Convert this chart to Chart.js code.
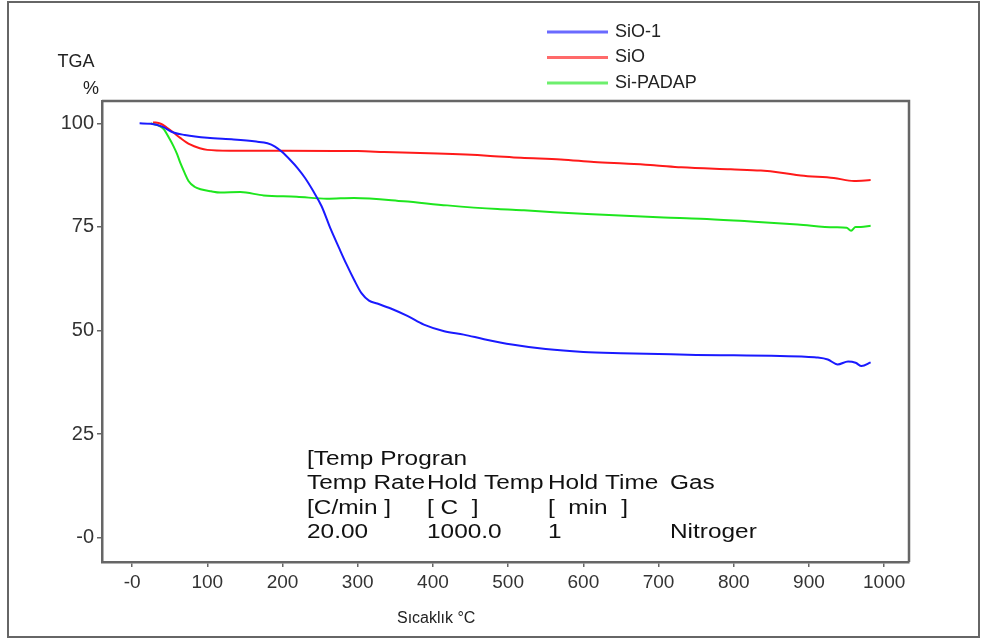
<!DOCTYPE html>
<html>
<head>
<meta charset="utf-8">
<title>TGA</title>
<script src="https://cdn.jsdelivr.net/npm/chart.js@4.4.1/dist/chart.umd.min.js"></script>
<style>
  html, body { margin: 0; padding: 0; background: #fff; }
  canvas { display: block; }
</style>
</head>
<body>
<canvas id="tgaChart" width="987" height="643"></canvas>
<script>
// TGA curves: temperature (°C) and remaining mass (%)
const sio1Temp = [10, 25, 40, 55, 70, 100, 135, 165, 180, 190, 200, 210, 220, 230, 241, 252, 264, 275, 285, 295, 305, 315, 326, 344, 366, 388, 415, 441, 468, 505, 550, 600, 650, 700, 750, 800, 850, 890, 910, 925, 938, 952, 962, 970, 982];
const sio1Mass = [100, 99.9, 99.2, 97.8, 97.2, 96.5, 96.1, 95.6, 95.2, 94.4, 93.0, 91.2, 89.2, 86.8, 83.6, 80.0, 74.5, 70.0, 66.0, 62.3, 59.0, 57.2, 56.5, 55.3, 53.5, 51.4, 49.8, 49.0, 47.9, 46.6, 45.5, 44.8, 44.5, 44.3, 44.1, 44.0, 43.9, 43.7, 43.5, 43.0, 41.8, 42.5, 42.2, 41.4, 42.3];

const sioTemp = [28, 38, 46, 55, 64, 77, 90, 100, 130, 200, 300, 335, 406, 472, 517, 570, 614, 654, 694, 730, 796, 836, 863, 889, 933, 960, 982];
const sioMass = [100.3, 99.9, 99.0, 97.8, 96.5, 94.9, 94.0, 93.6, 93.4, 93.4, 93.3, 93.1, 92.7, 92.2, 91.7, 91.3, 90.7, 90.3, 89.9, 89.4, 88.9, 88.6, 88.1, 87.4, 86.8, 86.1, 86.3];

const padapTemp = [25, 35, 42, 50, 55, 60, 64, 70, 75, 83, 91, 105, 117, 144, 175, 219, 259, 295, 361, 419, 486, 521, 605, 707, 756, 814, 885, 934, 950, 956, 962, 969, 982];
const padapMass = [100, 99.5, 98.6, 96.2, 94.5, 92.5, 90.5, 88.0, 86.1, 84.7, 84.1, 83.6, 83.3, 83.4, 82.6, 82.3, 81.8, 82.0, 81.2, 80.2, 79.3, 79.0, 78.1, 77.3, 77.0, 76.4, 75.6, 74.9, 74.8, 74.1, 75.0, 75.0, 75.3];

const seriesNames = ['SiO-1', 'SiO', 'Si-PADAP'];

const xTicks = [0, 100, 200, 300, 400, 500, 600, 700, 800, 900, 1000];
const xTickLabels = ['-0', '100', '200', '300', '400', '500', '600', '700', '800', '900', '1000'];
const yTicks = [0, 25, 50, 75, 100];
const yTickLabels = ['-0', '25', '50', '75', '100'];

// instrument program printed inside the plot
const programRows = [
  ['[Temp Progran'],
  ['Temp Rate', 'Hold Temp', 'Hold Time', 'Gas'],
  ['[C/min ]', '[ C  ]', '[  min  ]', ''],
  ['20.00', '1000.0', '1', 'Nitroger']
];

const FONT = '"Liberation Sans", Arial, sans-serif';

function toPoints(xs, ys) {
  return xs.map((x, i) => ({ x: x, y: ys[i] }));
}

const decorations = {
  id: 'decorations',
  beforeDraw(chart) {
    const ctx = chart.ctx;
    ctx.save();
    ctx.fillStyle = '#fff';
    ctx.fillRect(0, 0, chart.width, chart.height);
    ctx.restore();
  },
  afterDraw(chart) {
    const ctx = chart.ctx;
    const area = chart.chartArea;
    ctx.save();

    // outer frame
    ctx.strokeStyle = '#666';
    ctx.lineWidth = 2;
    ctx.strokeRect(8, 2, 971, 635);

    // top and right sides of the plot box
    ctx.strokeStyle = '#666';
    ctx.lineWidth = 2.5;
    ctx.beginPath();
    ctx.moveTo(area.left, area.top);
    ctx.lineTo(area.right, area.top);
    ctx.lineTo(area.right, area.bottom);
    ctx.stroke();

    // axis titles
    ctx.fillStyle = '#222';
    ctx.textBaseline = 'middle';
    ctx.textAlign = 'center';
    ctx.font = '18px ' + FONT;
    ctx.fillText('TGA', 76, 62);
    ctx.fillText('%', 91, 89);
    ctx.textAlign = 'left';
    ctx.font = '16px ' + FONT;
    ctx.fillText('Sıcaklık °C', 397, 619);

    // legend
    ctx.font = '18px ' + FONT;
    chart.data.datasets.forEach((ds, i) => {
      const y = 32 + i * 25.5;
      ctx.strokeStyle = ds.borderColor;
      ctx.globalAlpha = 0.65;
      ctx.lineWidth = 3;
      ctx.beginPath();
      ctx.moveTo(547, y);
      ctx.lineTo(608, y);
      ctx.stroke();
      ctx.globalAlpha = 1;
      ctx.fillStyle = '#222';
      ctx.fillText(ds.label, 615, y);
    });

    // temperature program block
    const cols = [307, 427, 548, 670];
    ctx.font = '20px ' + FONT;
    ctx.fillStyle = '#111';
    programRows.forEach((row, r) => {
      const y = 459 + r * 24.5;
      row.forEach((txt, c) => {
        ctx.save();
        ctx.translate(cols[c], y);
        ctx.scale(1.22, 1);
        ctx.fillText(txt, 0, 0);
        ctx.restore();
      });
    });

    ctx.restore();
  }
};

const ctx = document.getElementById('tgaChart').getContext('2d');
const tgaChart = new Chart(ctx, {
  type: 'line',
  data: {
    datasets: [
      { label: seriesNames[0], data: toPoints(sio1Temp, sio1Mass), borderColor: '#1a1aff' },
      { label: seriesNames[1], data: toPoints(sioTemp, sioMass), borderColor: '#ff1a1a' },
      { label: seriesNames[2], data: toPoints(padapTemp, padapMass), borderColor: '#1ee61e' }
    ]
  },
  options: {
    responsive: false,
    animation: false,
    layout: { padding: { top: 101, right: 78, left: 0, bottom: 0 } },
    elements: {
      point: { radius: 0 },
      line: { borderWidth: 2, cubicInterpolationMode: 'monotone', fill: false }
    },
    plugins: {
      legend: { display: false },
      tooltip: { enabled: false }
    },
    scales: {
      x: {
        type: 'linear',
        min: -40,
        max: 1033,
        afterBuildTicks: (scale) => { scale.ticks = xTicks.map(v => ({ value: v })); },
        afterFit: (scale) => { scale.height = 81; },
        ticks: {
          callback: (v, i) => xTickLabels[i],
          font: { family: FONT, size: 19 },
          color: '#333',
          padding: 4,
          maxRotation: 0,
          autoSkip: false
        },
        grid: { drawOnChartArea: false, drawTicks: true, tickLength: 5, color: '#666', lineWidth: 1.5 },
        border: { display: true, color: '#666', width: 2.5 }
      },
      y: {
        type: 'linear',
        min: -5.9,
        max: 105.4,
        afterBuildTicks: (scale) => { scale.ticks = yTicks.map(v => ({ value: v })); },
        afterFit: (scale) => { scale.width = 102; },
        ticks: {
          callback: (v, i) => yTickLabels[i],
          font: { family: FONT, size: 20 },
          color: '#333',
          padding: 3,
          autoSkip: false
        },
        grid: { drawOnChartArea: false, drawTicks: true, tickLength: 5, color: '#666', lineWidth: 1.5 },
        border: { display: true, color: '#666', width: 2.5 }
      }
    }
  },
  plugins: [decorations]
});
</script>
</body>
</html>
